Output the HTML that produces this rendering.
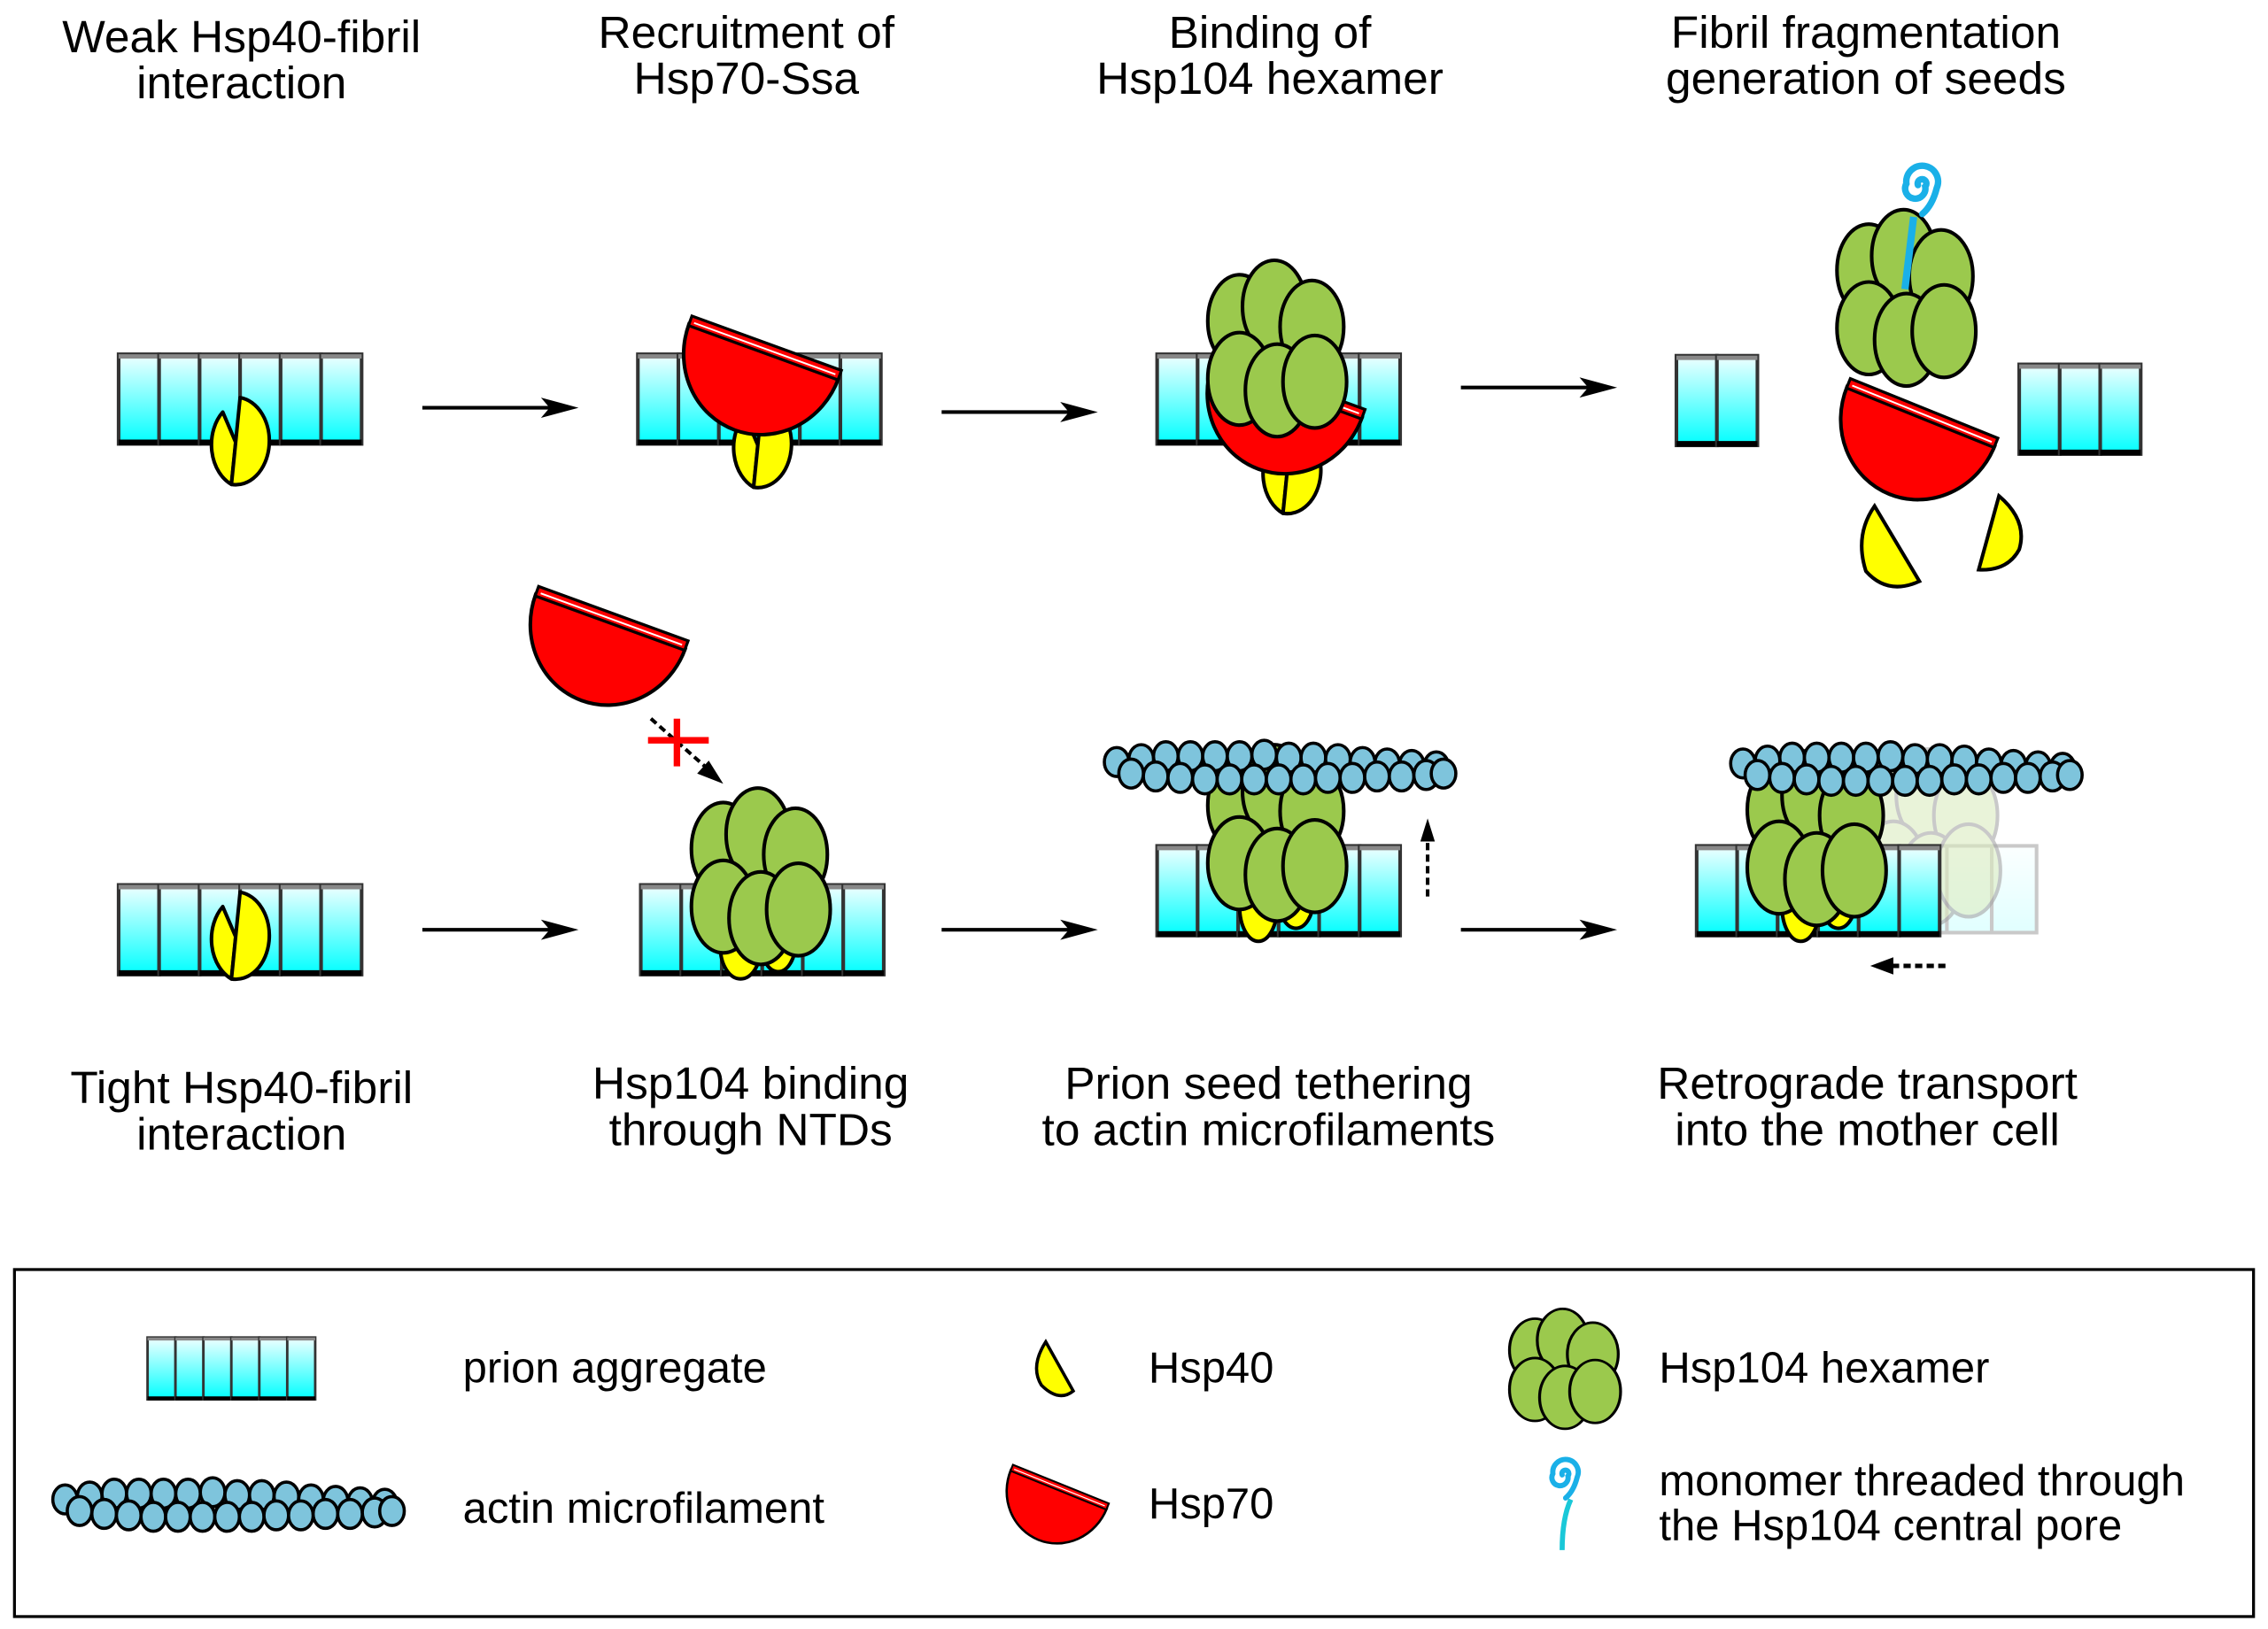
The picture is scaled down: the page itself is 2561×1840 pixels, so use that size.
<!DOCTYPE html>
<html><head><meta charset="utf-8"><style>
html,body{margin:0;padding:0;background:#fff;}
svg{display:block;}
text{font-family:"Liberation Sans",sans-serif;font-size:30px;fill:#000;}
text.t{font-size:31.5px;}
</style></head><body>
<svg width="2561" height="1840" viewBox="0 0 1568 1126.6" preserveAspectRatio="none" xmlns="http://www.w3.org/2000/svg">
<defs>
<linearGradient id="cg" x1="0" y1="0" x2="0" y2="1"><stop offset="0" stop-color="#f0ffff"/><stop offset="1" stop-color="#00ffff"/></linearGradient>
<linearGradient id="cgl" x1="0" y1="0" x2="0" y2="1"><stop offset="0" stop-color="#f6ffff"/><stop offset="1" stop-color="#aaffff"/></linearGradient>
<g id="cell"><rect x="0" y="0" width="28" height="62" fill="url(#cg)" stroke="#333" stroke-width="2.5"/><line x1="0" y1="1.5" x2="28" y2="1.5" stroke="#888" stroke-width="3"/><line x1="0" y1="61" x2="28" y2="61" stroke="#000" stroke-width="4"/></g>
<g id="agg6"><use href="#cell" x="0"/><use href="#cell" x="28"/><use href="#cell" x="56"/><use href="#cell" x="84"/><use href="#cell" x="112"/><use href="#cell" x="140"/></g>
<g id="h40"><path d="M-2,0 L-11,-21 A23,30 0 0 0 -5,29 Z" fill="#ffff00" stroke="#000" stroke-width="2.5" stroke-linejoin="round"/><path d="M1,-31 A23,30 0 0 1 -5,29 Z" fill="#ffff00" stroke="#000" stroke-width="2.5" stroke-linejoin="round"/></g>
<g id="h70"><path d="M-55,0 A55,58 0 0 0 55,0 Z" fill="#ff0000" stroke="#000" stroke-width="2.5"/><rect x="-55" y="-6" width="110" height="7" fill="#ff0000" stroke="#000" stroke-width="2"/><line x1="-52" y1="-2" x2="52" y2="-2" stroke="#fff" stroke-width="1.2"/></g>
<g id="h104" fill="#9bc94d" stroke="#000" stroke-width="2.5"><ellipse cx="-26" cy="-18" rx="22" ry="32"/><ellipse cx="-2" cy="-28" rx="22" ry="32"/><ellipse cx="24" cy="-14" rx="22" ry="32"/><ellipse cx="-26" cy="22" rx="22" ry="32"/><ellipse cx="0" cy="30" rx="22" ry="32"/><ellipse cx="26" cy="24" rx="22" ry="32"/></g>
<g id="bead"><ellipse cx="0" cy="0" rx="8.5" ry="10" fill="#7ec4dc" stroke="#000" stroke-width="2.2"/></g>
<g id="actin">
<use href="#bead" x="0" y="-5"/><use href="#bead" x="17" y="-7"/><use href="#bead" x="34" y="-9"/><use href="#bead" x="51" y="-9"/><use href="#bead" x="68" y="-9"/><use href="#bead" x="85" y="-9"/><use href="#bead" x="102" y="-10"/><use href="#bead" x="119" y="-8"/><use href="#bead" x="136" y="-8"/><use href="#bead" x="153" y="-7"/><use href="#bead" x="170" y="-5"/><use href="#bead" x="187" y="-4"/><use href="#bead" x="204" y="-3"/><use href="#bead" x="221" y="-2"/>
<use href="#bead" x="10" y="3"/><use href="#bead" x="27" y="5"/><use href="#bead" x="44" y="6"/><use href="#bead" x="61" y="7"/><use href="#bead" x="78" y="7"/><use href="#bead" x="95" y="7"/><use href="#bead" x="112" y="7"/><use href="#bead" x="129" y="7"/><use href="#bead" x="146" y="6"/><use href="#bead" x="163" y="6"/><use href="#bead" x="180" y="5"/><use href="#bead" x="197" y="5"/><use href="#bead" x="214" y="4"/><use href="#bead" x="226" y="3"/>
</g>
<g id="arrow"><line x1="0" y1="0" x2="95" y2="0" stroke="#000" stroke-width="2.5"/><path d="M82,-7 L108,0 L82,7 L88,0 Z" fill="#000"/></g>
<g id="spiral" fill="none" stroke="#1ab0e8" stroke-width="4.5" stroke-linecap="round"><path d="M0,0 a3,3 0 1,1 5,1 a7,7 0 1,1 -13,-2 a11,11 0 1,1 21,3 q-3,12 -10,18"/></g>
</defs>

<text class="t" x="167" y="36" text-anchor="middle">Weak Hsp40-fibril</text>
<text class="t" x="167" y="68" text-anchor="middle">interaction</text>
<text class="t" x="516" y="33" text-anchor="middle">Recruitment of</text>
<text class="t" x="516" y="65" text-anchor="middle">Hsp70-Ssa</text>
<text class="t" x="878" y="33" text-anchor="middle">Binding of</text>
<text class="t" x="878" y="65" text-anchor="middle">Hsp104 hexamer</text>
<text class="t" x="1290" y="33" text-anchor="middle">Fibril fragmentation</text>
<text class="t" x="1290" y="65" text-anchor="middle">generation of seeds</text>

<text class="t" x="167" y="763" text-anchor="middle">Tight Hsp40-fibril</text>
<text class="t" x="167" y="795" text-anchor="middle">interaction</text>
<text class="t" x="519" y="760" text-anchor="middle">Hsp104 binding</text>
<text class="t" x="519" y="792" text-anchor="middle">through NTDs</text>
<text class="t" x="877" y="760" text-anchor="middle">Prion seed tethering</text>
<text class="t" x="877" y="792" text-anchor="middle">to actin microfilaments</text>
<text class="t" x="1291" y="760" text-anchor="middle">Retrograde transport</text>
<text class="t" x="1291" y="792" text-anchor="middle">into the mother cell</text>

<!-- Row 1 -->
<use href="#agg6" x="82" y="245"/>
<use href="#h40" x="165" y="306"/>
<use href="#arrow" x="292" y="282"/>

<use href="#agg6" x="441" y="245"/>
<use href="#h40" x="526" y="308"/>
<use href="#h70" transform="translate(528,243) rotate(20)"/>
<use href="#arrow" x="651" y="285"/>

<use href="#agg6" x="800" y="245"/>
<use href="#h40" x="892" y="326"/>
<use href="#h70" transform="translate(890,270) rotate(20)"/>
<use href="#h104" x="883" y="240"/>
<use href="#arrow" x="1010" y="268"/>

<use href="#cell" x="1159" y="246"/><use href="#cell" x="1187" y="246"/>
<use href="#cell" x="1396" y="252"/><use href="#cell" x="1424" y="252"/><use href="#cell" x="1452" y="252"/>
<use href="#h104" x="1318" y="205"/>
<use href="#spiral" x="1326" y="128"/>
<line x1="1323" y1="150" x2="1317" y2="200" stroke="#1ab0e8" stroke-width="5"/>
<use href="#h70" transform="translate(1328,288) rotate(22)"/>
<path d="M1296,350 L1327,402 Q1305,412 1290,395 Q1282,370 1296,350 Z" fill="#ffff00" stroke="#000" stroke-width="2.5"/>
<path d="M1382,343 Q1402,360 1396,380 Q1388,395 1368,394 Z" fill="#ffff00" stroke="#000" stroke-width="2.5"/>

<!-- Row 2 -->
<use href="#agg6" x="82" y="612"/>
<use href="#h40" x="165" y="648"/>
<use href="#arrow" x="292" y="643"/>

<use href="#h70" transform="translate(422,430) rotate(20)"/>
<line x1="450" y1="497" x2="493" y2="535" stroke="#000" stroke-width="2.5" stroke-dasharray="5,3"/>
<path d="M500,542 L482,535 L490,526 Z" fill="#000"/>
<line x1="468" y1="497" x2="468" y2="530" stroke="#ff0000" stroke-width="4.5"/>
<line x1="448" y1="512" x2="490" y2="512" stroke="#ff0000" stroke-width="4.5"/>

<use href="#agg6" x="443" y="612"/>
<ellipse cx="512" cy="655" rx="14" ry="22" fill="#ffff00" stroke="#000" stroke-width="2.5"/>
<ellipse cx="538" cy="652" rx="12" ry="20" fill="#ffff00" stroke="#000" stroke-width="2.5"/>
<use href="#h104" x="526" y="605"/>
<use href="#arrow" x="651" y="643"/>

<use href="#agg6" x="800" y="585"/>
<ellipse cx="870" cy="627" rx="13" ry="24" fill="#ffff00" stroke="#000" stroke-width="2.5"/>
<ellipse cx="896" cy="622" rx="12" ry="20" fill="#ffff00" stroke="#000" stroke-width="2.5"/>
<use href="#h104" x="883" y="575"/>
<use href="#actin" x="772" y="532"/>
<line x1="987" y1="620" x2="987" y2="580" stroke="#000" stroke-width="2.5" stroke-dasharray="5,3"/>
<path d="M987,566 L982,582 L992,582 Z" fill="#000"/>
<use href="#arrow" x="1010" y="643"/>

<g opacity="0.35">
<rect x="1315" y="585" width="93" height="60" fill="url(#cgl)" stroke="#666" stroke-width="2.5"/>
<line x1="1346" y1="585" x2="1346" y2="645" stroke="#666" stroke-width="2.5"/><line x1="1377" y1="585" x2="1377" y2="645" stroke="#666" stroke-width="2.5"/>
<use href="#h104" x="1335" y="578" style="opacity:0.6"/>
</g>
<use href="#cell" x="1173" y="585" /><use href="#cell" x="1201" y="585"/><use href="#cell" x="1229" y="585"/><use href="#cell" x="1257" y="585"/><use href="#cell" x="1285" y="585"/><use href="#cell" x="1313" y="585"/>
<ellipse cx="1245" cy="627" rx="13" ry="24" fill="#ffff00" stroke="#000" stroke-width="2.5"/>
<ellipse cx="1271" cy="622" rx="12" ry="20" fill="#ffff00" stroke="#000" stroke-width="2.5"/>
<use href="#h104" x="1256" y="578"/>
<use href="#actin" x="1205" y="533"/>
<line x1="1345" y1="668" x2="1305" y2="668" stroke="#000" stroke-width="3" stroke-dasharray="5,3"/>
<path d="M1293,668 L1309,662 L1309,674 Z" fill="#000"/>

<!-- Legend -->
<rect x="10" y="878" width="1548" height="240" fill="none" stroke="#000" stroke-width="2"/>
<g transform="translate(102,925) scale(0.69,0.69)"><use href="#cell" x="0"/><use href="#cell" x="28"/><use href="#cell" x="56"/><use href="#cell" x="84"/><use href="#cell" x="112"/><use href="#cell" x="140"/></g>
<text x="320" y="956">prion aggregate</text>
<use href="#actin" x="45" y="1042"/>
<text x="320" y="1053">actin microfilament</text>
<path d="M723,928 L742,962 Q732,970 720,958 Q712,945 723,928 Z" fill="#ffff00" stroke="#000" stroke-width="2.2"/>
<text x="794" y="956">Hsp40</text>
<use href="#h70" transform="translate(732,1030) rotate(22) scale(0.65)"/>
<text x="794" y="1050">Hsp70</text>
<use href="#h104" transform="translate(1082,946) scale(0.8,0.68)"/>
<text x="1147" y="956">Hsp104 hexamer</text>
<use href="#spiral" transform="translate(1080,1020) scale(0.8)" style="stroke:#1ac8d8"/>
<path d="M1086,1037 Q1080,1050 1080,1072" fill="none" stroke="#1ac8d8" stroke-width="3.5"/>
<text x="1147" y="1034">monomer threaded through</text>
<text x="1147" y="1065">the Hsp104 central pore</text>
</svg>
</body></html>
